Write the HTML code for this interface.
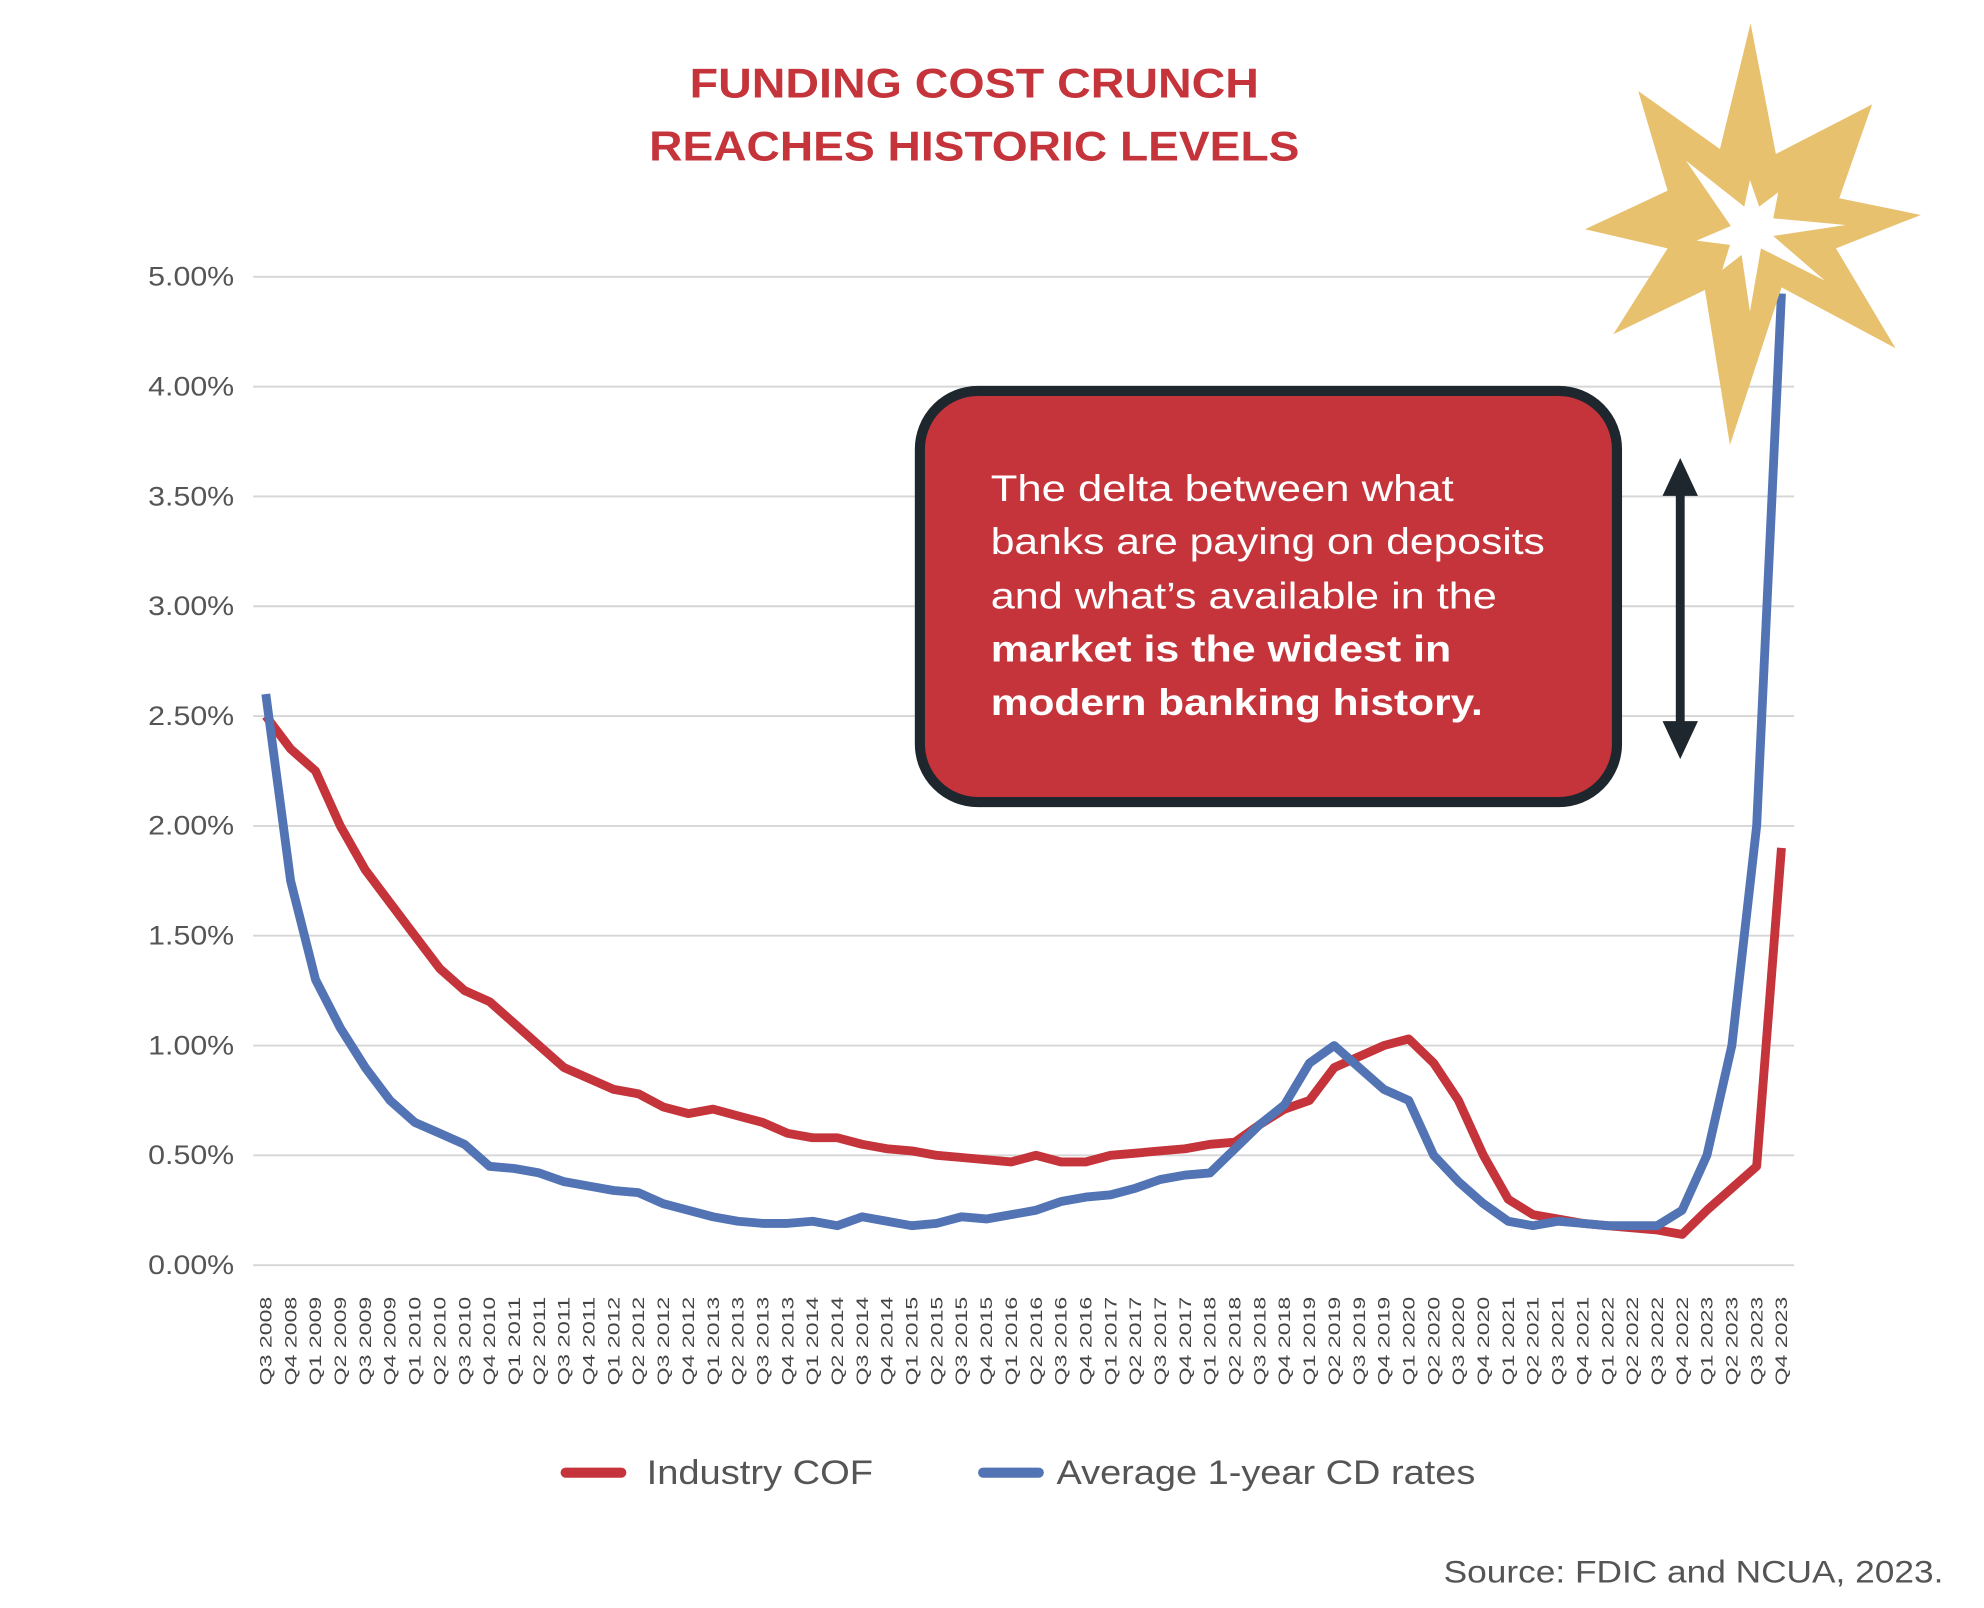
<!DOCTYPE html>
<html><head><meta charset="utf-8"><style>
html,body{margin:0;padding:0;background:#fff;}
svg{display:block;font-family:"Liberation Sans",sans-serif;}
</style></head><body>
<svg id="s" width="1984" height="1608" viewBox="0 0 1568 1271" xmlns="http://www.w3.org/2000/svg">
<rect width="1568" height="1271" fill="#fff"/>
<text x="545" y="77" textLength="450" lengthAdjust="spacingAndGlyphs" font-size="33" font-weight="bold" fill="#c4343a">FUNDING COST CRUNCH</text>
<text x="513" y="127" textLength="514" lengthAdjust="spacingAndGlyphs" font-size="33" font-weight="bold" fill="#c4343a">REACHES HISTORIC LEVELS</text>
<g id="grid" stroke="#d6d6d6" stroke-width="1.5"></g>
<g id="ylab" font-size="21" fill="#555"></g>
<g id="xlab" font-size="13" fill="#444" text-anchor="end"></g>
<path id="cof" fill="none" stroke="#c4343a" stroke-width="7" stroke-linejoin="round"/>
<path id="cd" fill="none" stroke="#5274b4" stroke-width="7" stroke-linejoin="round"/>
<polygon fill="#e8c16f" points="1383.6,18.4 1403.6,121.7 1479.7,82.5 1453.7,156.7 1518.2,169.9 1451.1,196.3 1498.2,275.3 1408.1,227.1 1367.3,351.7 1347.5,229.2 1275.1,264.2 1318,196.3 1252.7,181.2 1318,150.7 1294.8,71.9 1359.4,117.8"/>
<polygon fill="#fff" points="1332.5,127 1378.6,163.3 1383.1,142.3 1390.4,163.3 1405.5,152 1401.5,172.6 1458.9,177.8 1401.5,186.5 1442.3,221.8 1391.8,196.3 1383.1,246.3 1376.5,201.5 1361.2,213.4 1367.3,193.6 1340.9,190.2 1368,178.6"/>
<rect x="727" y="309" width="551" height="325" rx="46" fill="#c4343a" stroke="#1e272e" stroke-width="8"/>
<g font-size="29" fill="#fff" lengthAdjust="spacingAndGlyphs">
<text x="783" y="396" textLength="366" lengthAdjust="spacingAndGlyphs">The delta between what</text>
<text x="783" y="438" textLength="438" lengthAdjust="spacingAndGlyphs">banks are paying on deposits</text>
<text x="783" y="481" textLength="400" lengthAdjust="spacingAndGlyphs">and what’s available in the</text>
<text x="783" y="523" textLength="364" lengthAdjust="spacingAndGlyphs" font-weight="bold">market is the widest in</text>
<text x="783" y="565" textLength="389" lengthAdjust="spacingAndGlyphs" font-weight="bold">modern banking history.</text>
</g>
<line x1="1328" y1="385" x2="1328" y2="578" stroke="#1e272e" stroke-width="7"/>
<polygon points="1328,362 1314,392 1342,392" fill="#1e272e"/>
<polygon points="1328,600 1314,570 1342,570" fill="#1e272e"/>
<line x1="447" y1="1164" x2="491" y2="1164" stroke="#c4343a" stroke-width="8" stroke-linecap="round"/>
<text x="511" y="1173" font-size="27" fill="#555" textLength="179" lengthAdjust="spacingAndGlyphs">Industry COF</text>
<line x1="777" y1="1164" x2="821" y2="1164" stroke="#5274b4" stroke-width="8" stroke-linecap="round"/>
<text x="835" y="1173" font-size="27" fill="#555" textLength="331" lengthAdjust="spacingAndGlyphs">Average 1-year CD rates</text>
<text x="1141" y="1251" font-size="25" fill="#555" textLength="395" lengthAdjust="spacingAndGlyphs">Source: FDIC and NCUA, 2023.</text>
</svg>
<script>
var NS="http://www.w3.org/2000/svg";
function Y(v){return v>4.4?232:1000-v*173.6;}
function X(i){return 210+i*19.64;}
var g=document.getElementById('grid'),yl=document.getElementById('ylab'),xl=document.getElementById('xlab');
var labs=['0.00%','0.50%','1.00%','1.50%','2.00%','2.50%','3.00%','3.50%','4.00%','5.00%'];
for(var k=0;k<10;k++){var y=1000-k*86.8;var l=document.createElementNS(NS,'line');l.setAttribute('x1',200);l.setAttribute('x2',1418);l.setAttribute('y1',y);l.setAttribute('y2',y);g.appendChild(l);
var t=document.createElementNS(NS,'text');t.setAttribute('x',117);t.setAttribute('y',y+7);t.setAttribute('textLength',68);t.setAttribute('lengthAdjust','spacingAndGlyphs');t.textContent=labs[k];yl.appendChild(t);}
for(var i=0;i<62;i++){var q=((2+i)%4)+1,yr=2008+Math.floor((2+i)/4);var t=document.createElementNS(NS,'text');var x=X(i)+4.5;t.setAttribute('transform','translate('+x+',1025) rotate(-90)');t.setAttribute('textLength',70);t.setAttribute('lengthAdjust','spacingAndGlyphs');t.textContent='Q'+q+' '+yr;xl.appendChild(t);}
var cof=[2.5,2.35,2.25,2.0,1.8,1.65,1.5,1.35,1.25,1.2,1.1,1.0,0.9,0.85,0.8,0.78,0.72,0.69,0.71,0.68,0.65,0.6,0.58,0.58,0.55,0.53,0.52,0.5,0.49,0.48,0.47,0.5,0.47,0.47,0.5,0.51,0.52,0.53,0.55,0.56,0.64,0.71,0.75,0.9,0.95,1.0,1.03,0.92,0.75,0.5,0.3,0.23,0.21,0.19,0.18,0.17,0.16,0.14,0.25,0.35,0.45,1.9];
var cd=[2.6,1.75,1.3,1.08,0.9,0.75,0.65,0.6,0.55,0.45,0.44,0.42,0.38,0.36,0.34,0.33,0.28,0.25,0.22,0.2,0.19,0.19,0.2,0.18,0.22,0.2,0.18,0.19,0.22,0.21,0.23,0.25,0.29,0.31,0.32,0.35,0.39,0.41,0.42,0.53,0.64,0.73,0.92,1.0,0.9,0.8,0.75,0.5,0.38,0.28,0.2,0.18,0.2,0.19,0.18,0.18,0.18,0.25,0.5,1.0,2.0,4.9];
function p(a){return a.map(function(v,i){return (i?'L':'M')+X(i).toFixed(1)+','+Y(v).toFixed(1);}).join(' ');}
document.getElementById('cof').setAttribute('d',p(cof));
document.getElementById('cd').setAttribute('d',p(cd));
</script>
</body></html>
